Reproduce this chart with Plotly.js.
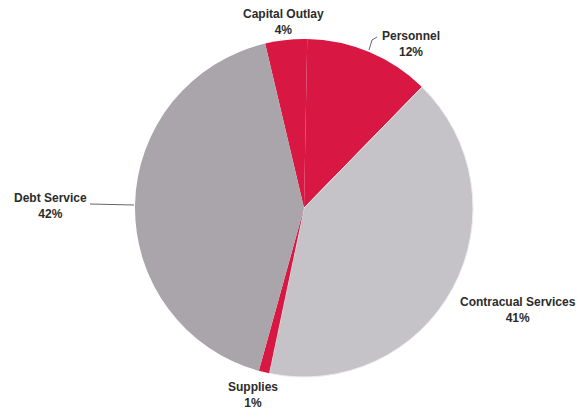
<!DOCTYPE html>
<html>
<head>
<meta charset="utf-8">
<script src="https://cdn.plot.ly/plotly-3.0.1.min.js"></script>
<style>html,body{margin:0;padding:0;background:#fff}#chart{width:582px;height:411px}</style>
</head>
<body>
<div id="chart"></div>
<script>
const categories = ["Capital Outlay", "Personnel", "Contracual Services", "Supplies", "Debt Service"];
const percents = [4, 12, 41, 1, 42];
const sliceColors = ["#d81843", "#d81843", "#c5c3c8", "#d81843", "#aaa5ab"];

const W = 582, H = 411;
const px = x => x / W;
const py = y => 1 - y / H;

// label placement (pixels)
const labelPos = {
  "Capital Outlay": [283, 22],
  "Personnel": [411, 44],
  "Contracual Services": [518, 310],
  "Supplies": [253, 395],
  "Debt Service": [50, 206]
};

const annotations = categories.map((c, i) => ({
  text: c + "<br>" + percents[i] + "%",
  x: px(labelPos[c][0]), y: py(labelPos[c][1]),
  xref: "paper", yref: "paper",
  xanchor: "center", yanchor: "middle",
  showarrow: false,
  font: {family: "Liberation Sans, Arial, sans-serif", size: 12, color: "#2b2b2b", weight: "bold"}
}));

const lineStyle = {color: "#666", width: 1};
const shapes = [
  {type: "line", xref: "paper", yref: "paper", x0: px(90), y0: py(204), x1: px(134), y1: py(205), line: lineStyle},
  {type: "line", xref: "paper", yref: "paper", x0: px(369), y0: py(50), x1: px(372), y1: py(40), line: lineStyle},
  {type: "line", xref: "paper", yref: "paper", x0: px(372), y0: py(40), x1: px(377), y1: py(37), line: lineStyle}
];

const cx = 304, cy = 208, r = 169;
const data = [{
  type: "pie",
  labels: categories,
  values: percents,
  sort: false,
  direction: "clockwise",
  rotation: -13.3,
  marker: {colors: sliceColors, line: {color: "#ededf0", width: [0, 0, 1, 0, 0]}},
  textinfo: "none",
  hoverinfo: "label+percent",
  domain: {x: [px(cx - r), px(cx + r)], y: [py(cy + r), py(cy - r)]},
  automargin: false
}];

const layout = {
  width: W, height: H,
  margin: {l: 0, r: 0, t: 0, b: 0},
  showlegend: false,
  paper_bgcolor: "#ffffff",
  annotations: annotations,
  shapes: shapes
};

Plotly.newPlot("chart", data, layout, {displayModeBar: false, staticPlot: true});
</script>
</body>
</html>
